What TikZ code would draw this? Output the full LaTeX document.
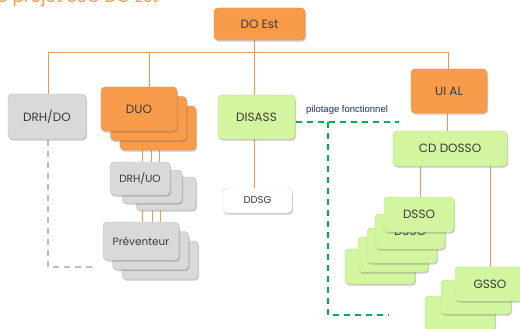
\documentclass[tikz,border=0pt]{standalone}
\usepackage{fontspec}
\setmainfont{Poppins}
\newfontfamily\labelfont{Liberation Sans}
\usetikzlibrary{shadows}
\definecolor{orgfill}{HTML}{F89C4C}
\definecolor{orgline}{HTML}{F79646}
\definecolor{grnfill}{HTML}{D3F5A0}
\definecolor{grnedge}{HTML}{B9E085}
\definecolor{gryfill}{HTML}{D9D9D9}
\definecolor{gryedge}{HTML}{BFBFBF}
\definecolor{txt}{HTML}{3A3A3A}
\definecolor{pilot}{HTML}{00B050}
\definecolor{navy}{HTML}{1F2D5C}
\tikzset{
  box/.style={rounded corners=4pt, inner sep=0pt, text=txt, font=\fontsize{12}{14}\selectfont,
    drop shadow={shadow xshift=1pt, shadow yshift=-1.6pt, opacity=0.35, fill=black!60}},
  obox/.style={box, fill=orgfill, draw=orgfill!90!black},
  gbox/.style={box, fill=grnfill, draw=grnedge},
  ybox/.style={box, fill=gryfill, draw=gryedge},
  wbox/.style={box, fill=white, draw=gryedge!60},
  conn/.style={draw=orgline, line width=0.8pt},
  greydash/.style={draw=gryedge, line width=1.6pt, dash pattern=on 6pt off 5pt},
  greendash/.style={draw=pilot, line width=2.4pt, dash pattern=on 6pt off 5pt},
}
\begin{document}
\begin{tikzpicture}[x={(1pt,0)}, y={(0,-1pt)}]
\useasboundingbox (0,0) rectangle (520,329);
% clipped title
\node[anchor=base west, inner sep=0pt, text=orgline, font=\fontsize{17}{20}\selectfont] (title) at (-3,3) {o projet SSO DO Est};

% coordinates for connectors
\coordinate (busL) at (48,52);
\coordinate (busR) at (448,52);
\coordinate (busDUO) at (149,52);
\coordinate (busDIS) at (254,52);
\coordinate (busDO) at (254,40);

% connectors
\draw[conn] (busDO) -- (254,52);
\draw[conn] (busL) -- (busR);
\draw[conn] (busL) -- (48,94);
\draw[conn] (busDUO) -- (149,87);
\draw[conn] (busDIS) -- (254,95);
\draw[conn] (busR) -- (448,69);
\draw[conn] (447,113) -- (447,131);
\draw[conn] (254,139) -- (254,188);
\foreach \x in {142,151,159} \draw[conn] (\x,131) -- (\x,162);
\foreach \x in {142,152,160} \draw[conn] (\x,195) -- (\x,222);
\draw[conn] (420,166) -- (420,197);
\draw[conn] (490,166) -- (490,267);

% dashed lines
\coordinate (gd1) at (48,140);
\coordinate (gd2) at (48,267);
\coordinate (gd3) at (92,267);
\draw[greydash] (gd1) -- (gd2) -- (gd3);
\coordinate (pd1) at (296,122);
\coordinate (pd2) at (399,122);
\coordinate (pd3) at (328,122);
\coordinate (pd4) at (328,315);
\coordinate (pd5) at (389,315);
\draw[greendash] (pd1) -- (pd2);
\draw[greendash] (pd3) -- (pd4) -- (pd5);
\node[inner sep=0pt, text=navy, font=\labelfont\fontsize{9.5}{11}\selectfont] (pilot) at (347,110) {pilotage fonctionnel};

% top
\node[obox, minimum width=91pt, minimum height=32pt] (doest) at (259.5,24) {DO Est};
\node[ybox, minimum width=78pt, minimum height=45pt] (drhdo) at (47,116.5) {DRH/DO};
% DUO stack
\node[obox, minimum width=76pt, minimum height=44pt] (duo3) at (158,128) {};
\node[obox, minimum width=76pt, minimum height=44pt] (duo2) at (148.5,118.5) {};
\node[obox, minimum width=76pt, minimum height=44pt] (duo1) at (139,109) {DUO};
\node[gbox, minimum width=77pt, minimum height=44pt] (disass) at (256.5,117) {DISASS};
\node[obox, minimum width=76pt, minimum height=44pt] (uial) at (449,91) {UI AL};
\node[gbox, minimum width=114pt, minimum height=35pt] (cddosso) at (450,148.5) {CD DOSSO};
\node[wbox, minimum width=69pt, minimum height=25pt, font=\fontsize{10}{12}\selectfont] (ddsg) at (257.5,200.5) {DDSG};
% DRH/UO stack
\node[ybox, minimum width=60pt, minimum height=33pt] (drhuo3) at (166,193.5) {};
\node[ybox, minimum width=60pt, minimum height=33pt] (drhuo2) at (152,186.5) {};
\node[ybox, minimum width=60pt, minimum height=33pt, font=\fontsize{10.5}{12}\selectfont] (drhuo1) at (140,178.5) {DRH/UO};
% Preventeur stack
\node[ybox, minimum width=76pt, minimum height=38pt] (prev3) at (160,260) {};
\node[ybox, minimum width=76pt, minimum height=38pt] (prev2) at (150.5,250.5) {};
\node[ybox, minimum width=76pt, minimum height=38pt, font=\fontsize{10.5}{12}\selectfont] (prev1) at (141,241) {Préventeur};
% DSSO stack
\node[gbox, minimum width=70pt, minimum height=35pt] (dsso5) at (380,266.5) {DSSO};
\node[gbox, minimum width=70pt, minimum height=35pt] (dsso4) at (393,254.5) {DSSO};
\node[gbox, minimum width=70pt, minimum height=35pt] (dsso3) at (402,245.5) {DSSO};
\node[gbox, minimum width=70pt, minimum height=35pt] (dsso2) at (410,231.5) {DSSO};
\node[gbox, minimum width=70pt, minimum height=35pt] (dsso1) at (419,214.5) {DSSO};
% GSSO stack
\node[gbox, minimum width=70pt, minimum height=34pt] (gsso3) at (460,313) {};
\node[gbox, minimum width=70pt, minimum height=34pt] (gsso2) at (476,297) {};
\node[gbox, minimum width=70pt, minimum height=34pt] (gsso1) at (490,284) {GSSO};
\end{tikzpicture}
\end{document}
